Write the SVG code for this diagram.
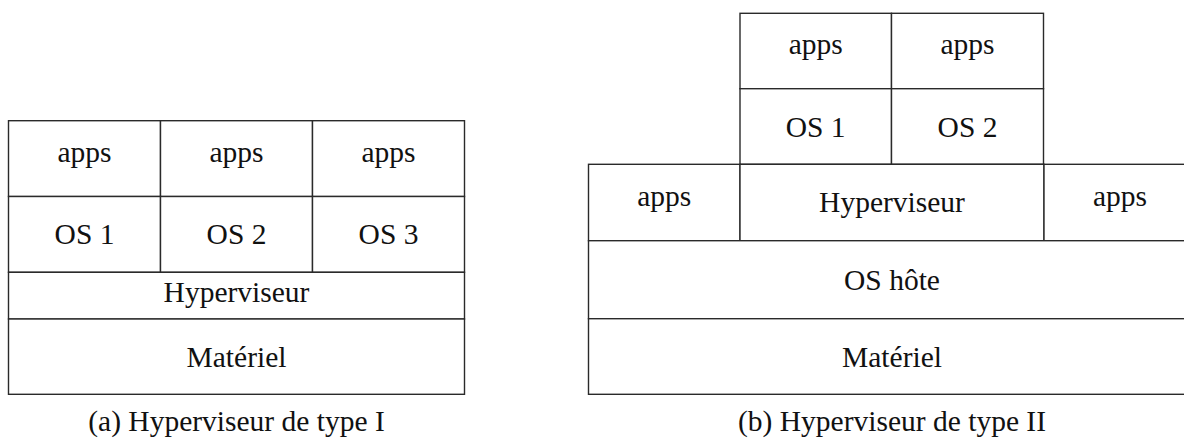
<svg xmlns="http://www.w3.org/2000/svg" width="1184" height="438" viewBox="0 0 1184 438">
<style>
  rect { fill: #ffffff; stroke: #2a2a2a; stroke-width: 1.4; }
  text { font-size: 29.5px; fill: #111111; text-anchor: middle; }
</style>
<rect x="0" y="0" width="1184" height="438" style="stroke:none;fill:#ffffff"/>
<g font-family="'Liberation Serif', 'DejaVu Serif', serif">
<!-- (a) Type I -->
<g id="a-apps1"><rect x="8.5" y="120.7" width="152" height="75.8"/><text x="84.5" y="161.5">apps</text></g>
<g id="a-apps2"><rect x="160.5" y="120.7" width="152" height="75.8"/><text x="236.5" y="161.5">apps</text></g>
<g id="a-apps3"><rect x="312.5" y="120.7" width="152" height="75.8"/><text x="388.5" y="161.5">apps</text></g>
<g id="a-os1"><rect x="8.5" y="196.5" width="152" height="75.8"/><text x="84.5" y="244.3">OS 1</text></g>
<g id="a-os2"><rect x="160.5" y="196.5" width="152" height="75.8"/><text x="236.5" y="244.3">OS 2</text></g>
<g id="a-os3"><rect x="312.5" y="196.5" width="152" height="75.8"/><text x="388.5" y="244.3">OS 3</text></g>
<g id="a-hyp"><rect x="8.5" y="272.3" width="456" height="46.7"/><text x="236.5" y="301.7">Hyperviseur</text></g>
<g id="a-mat"><rect x="8.5" y="319" width="456" height="75.3"/><text x="236.5" y="366.7">Matériel</text></g>
<g id="a-caption"><text x="236.5" y="431">(a) Hyperviseur de type I</text></g>
<!-- (b) Type II -->
<g id="b-apps1"><rect x="740" y="13.3" width="151.5" height="75.4"/><text x="815.7" y="54">apps</text></g>
<g id="b-apps2"><rect x="891.5" y="13.3" width="152" height="75.4"/><text x="967.5" y="54">apps</text></g>
<g id="b-os1"><rect x="740" y="88.7" width="151.5" height="75.6"/><text x="815.7" y="136.5">OS 1</text></g>
<g id="b-os2"><rect x="891.5" y="88.7" width="152" height="75.6"/><text x="967.5" y="136.5">OS 2</text></g>
<g id="b-appsL"><rect x="588.5" y="164.3" width="151.5" height="76.4"/><text x="664.3" y="205.5">apps</text></g>
<g id="b-hyp"><rect x="740" y="164.3" width="304" height="76.4"/><text x="892" y="212">Hyperviseur</text></g>
<g id="b-appsR"><rect x="1044" y="164.3" width="152" height="76.4"/><text x="1120" y="205.5">apps</text></g>
<g id="b-oshote"><rect x="588.5" y="240.7" width="607.5" height="78"/><text x="892" y="290">OS hôte</text></g>
<g id="b-mat"><rect x="588.5" y="318.7" width="607.5" height="75.6"/><text x="892" y="366.5">Matériel</text></g>
<g id="b-caption"><text x="892" y="431">(b) Hyperviseur de type II</text></g>
</g>
<g id="connectors"></g>
</svg>
